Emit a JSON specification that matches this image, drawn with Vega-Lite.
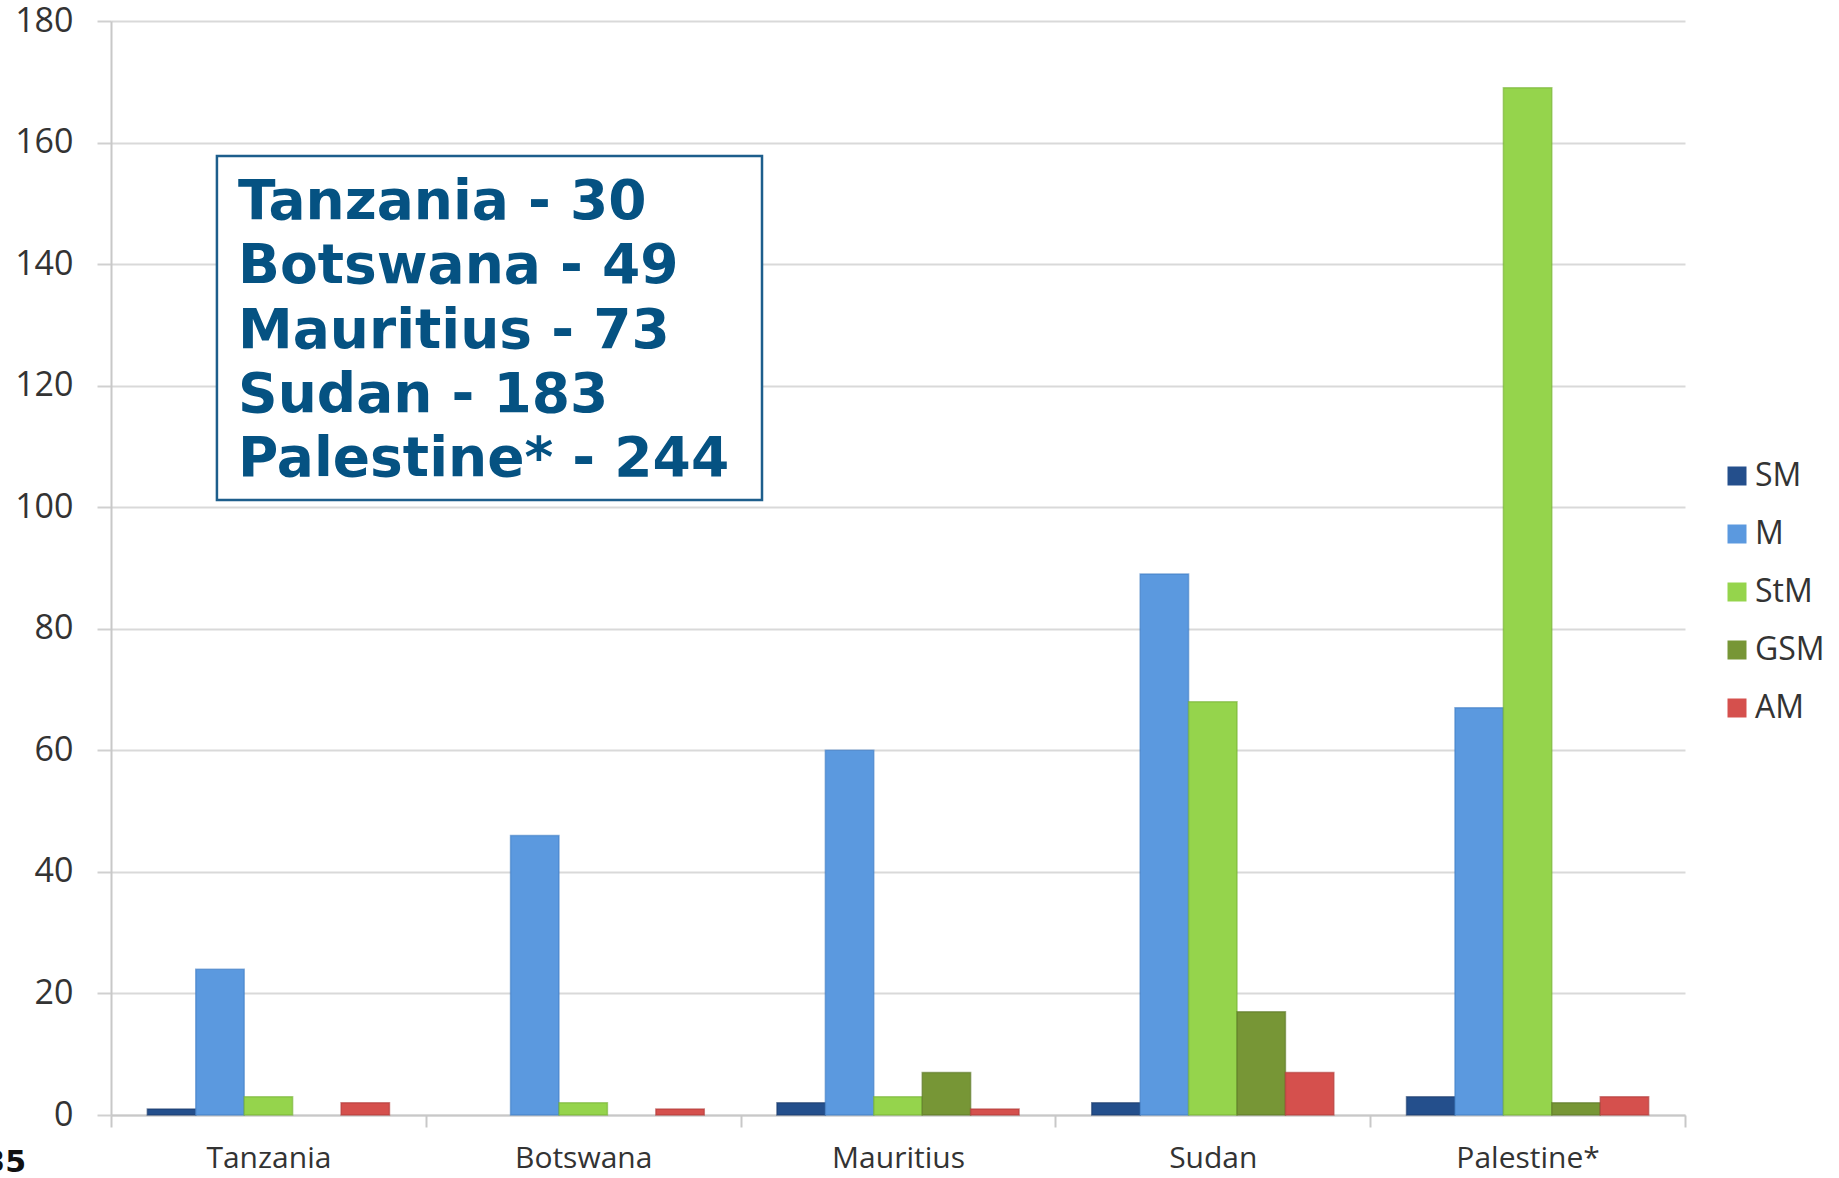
{
  "$schema": "https://vega.github.io/schema/vega-lite/v6.json",
  "autosize": "none",
  "width": 1574,
  "height": 1094,
  "padding": {"left": 111, "top": 21, "right": 154, "bottom": 63},
  "background": "white",
  "config": {"view": {"stroke": null}, "font": "Open Sans"},
  "layer": [
    {
      "data": {"values": [
        {"country": "Tanzania", "type": "SM", "value": 1},
        {"country": "Tanzania", "type": "M", "value": 24},
        {"country": "Tanzania", "type": "StM", "value": 3},
        {"country": "Tanzania", "type": "GSM", "value": 0},
        {"country": "Tanzania", "type": "AM", "value": 2},
        {"country": "Botswana", "type": "SM", "value": 0},
        {"country": "Botswana", "type": "M", "value": 46},
        {"country": "Botswana", "type": "StM", "value": 2},
        {"country": "Botswana", "type": "GSM", "value": 0},
        {"country": "Botswana", "type": "AM", "value": 1},
        {"country": "Mauritius", "type": "SM", "value": 2},
        {"country": "Mauritius", "type": "M", "value": 60},
        {"country": "Mauritius", "type": "StM", "value": 3},
        {"country": "Mauritius", "type": "GSM", "value": 7},
        {"country": "Mauritius", "type": "AM", "value": 1},
        {"country": "Sudan", "type": "SM", "value": 2},
        {"country": "Sudan", "type": "M", "value": 89},
        {"country": "Sudan", "type": "StM", "value": 68},
        {"country": "Sudan", "type": "GSM", "value": 17},
        {"country": "Sudan", "type": "AM", "value": 7},
        {"country": "Palestine*", "type": "SM", "value": 3},
        {"country": "Palestine*", "type": "M", "value": 67},
        {"country": "Palestine*", "type": "StM", "value": 169},
        {"country": "Palestine*", "type": "GSM", "value": 2},
        {"country": "Palestine*", "type": "AM", "value": 3}
      ]},
      "mark": {"type": "bar", "strokeWidth": 1.5},
      "encoding": {
        "x": {
          "field": "country", "type": "nominal", "sort": null,
          "scale": {"paddingInner": 0, "paddingOuter": 0},
          "axis": {
            "title": null, "labelAngle": 0, "tickBand": "extent", "ticks": true,
            "tickSize": 12, "tickColor": "#c8c8c8", "tickWidth": 2,
            "domainColor": "#c8c8c8", "domainWidth": 2, "grid": false,
            "labelFontSize": 30, "labelColor": "#333333", "labelPadding": 16
          }
        },
        "xOffset": {
          "field": "type", "type": "nominal", "sort": ["SM", "M", "StM", "GSM", "AM"],
          "scale": {"paddingInner": 0, "paddingOuter": 0.75}
        },
        "y": {
          "field": "value", "type": "quantitative",
          "scale": {"domain": [0, 180], "nice": false},
          "axis": {
            "title": null, "values": [0, 20, 40, 60, 80, 100, 120, 140, 160, 180],
            "grid": true, "gridColor": "#d9d9d9", "gridWidth": 2,
            "domainColor": "#c8c8c8", "domainWidth": 2,
            "tickSize": 14, "tickColor": "#d0d0d0", "tickWidth": 2,
            "labelFontSize": 34, "labelColor": "#333333", "labelPadding": 24
          }
        },
        "color": {
          "field": "type", "type": "nominal", "sort": ["SM", "M", "StM", "GSM", "AM"],
          "scale": {
            "domain": ["SM", "M", "StM", "GSM", "AM"],
            "range": ["#244f8c", "#5b99df", "#95d44c", "#779636", "#d5504d"]
          },
          "legend": {
            "title": null, "orient": "none", "legendX": 1610, "legendY": 439,
            "symbolType": "square", "symbolSize": 361, "symbolStrokeWidth": 0,
            "labelFontSize": 32, "labelColor": "#333333", "labelOffset": 2,
            "rowPadding": 26
          }
        },
        "stroke": {
          "field": "type", "type": "nominal",
          "scale": {
            "domain": ["SM", "M", "StM", "GSM", "AM"],
            "range": ["#1a3b6b", "#3f7dc4", "#74b032", "#5b7727", "#b03a38"]
          },
          "legend": null
        },
        "strokeOpacity": {
          "condition": {"test": "datum.value > 0", "value": 0.6},
          "value": 0
        }
      }
    },
    {
      "data": {"values": [{"box": "totals"}]},
      "mark": {"type": "rect", "fill": "white", "stroke": "#1d5e8c", "strokeWidth": 2.5},
      "encoding": {
        "x": {"datum": 0.0673, "type": "quantitative", "scale": {"domain": [0, 1]}, "axis": null},
        "x2": {"datum": 0.4136},
        "y": {"datum": 157.8, "type": "quantitative"},
        "y2": {"datum": 101.2}
      }
    },
    {
      "data": {"values": [{"box": "totals"}]},
      "mark": {
        "type": "text", "align": "left", "baseline": "top",
        "font": "DejaVu Sans", "fontWeight": "bold", "fontSize": 55,
        "lineHeight": 64.3, "color": "#055282",
        "text": ["Tanzania - 30", "Botswana - 49", "Mauritius - 73", "Sudan - 183", "Palestine* - 244"]
      },
      "encoding": {
        "x": {"datum": 0.0807, "type": "quantitative", "scale": {"domain": [0, 1]}, "axis": null},
        "y": {"datum": 154.5, "type": "quantitative"}
      }
    },
    {
      "data": {"values": [{"page": "35"}]},
      "mark": {
        "type": "text", "align": "right", "baseline": "middle",
        "font": "DejaVu Sans", "fontWeight": "bold", "fontSize": 30,
        "color": "#111111", "clip": false
      },
      "encoding": {
        "text": {"field": "page"},
        "x": {"datum": -0.054, "type": "quantitative", "scale": {"domain": [0, 1]}, "axis": null},
        "y": {"datum": -7.9, "type": "quantitative"}
      }
    }
  ],
  "resolve": {"scale": {"x": "independent"}}
}
